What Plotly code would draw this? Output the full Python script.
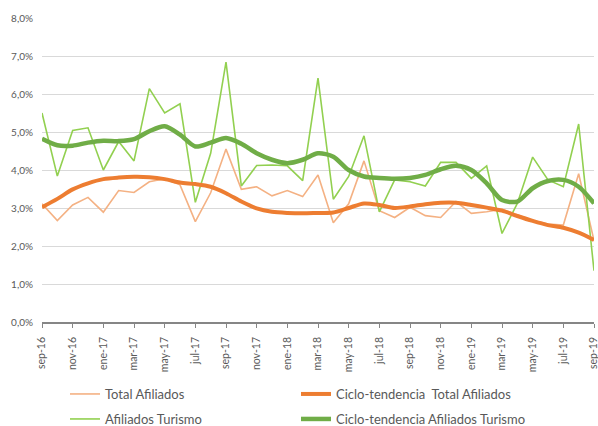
import plotly.graph_objects as go

months = ["sep-16","oct-16","nov-16","dic-16","ene-17","feb-17","mar-17","abr-17","may-17","jun-17",
          "jul-17","ago-17","sep-17","oct-17","nov-17","dic-17","ene-18","feb-18","mar-18","abr-18",
          "may-18","jun-18","jul-18","ago-18","sep-18","oct-18","nov-18","dic-18","ene-19","feb-19",
          "mar-19","abr-19","may-19","jun-19","jul-19","ago-19","sep-19"]

total_afiliados = [3.11, 2.67, 3.08, 3.28, 2.89, 3.46, 3.41, 3.69, 3.77, 3.61, 2.64, 3.40, 4.55,
                   3.49, 3.56, 3.32, 3.46, 3.30, 3.87, 2.61, 3.11, 4.24, 2.93, 2.75, 3.02, 2.80,
                   2.75, 3.17, 2.86, 2.90, 2.97, 2.82, 2.67, 2.58, 2.55, 3.90, 2.14]

ciclo_total = [3.02, 3.24, 3.49, 3.65, 3.76, 3.80, 3.82, 3.81, 3.76, 3.67, 3.63, 3.56, 3.39,
               3.17, 2.99, 2.90, 2.87, 2.86, 2.87, 2.88, 3.00, 3.12, 3.08, 3.00, 3.04, 3.10,
               3.14, 3.14, 3.08, 3.01, 2.93, 2.79, 2.66, 2.55, 2.48, 2.35, 2.16]

afiliados_turismo = [5.50, 3.84, 5.04, 5.11, 4.00, 4.75, 4.24, 6.14, 5.50, 5.74, 3.15, 4.44, 6.84,
                     3.58, 4.12, 4.13, 4.11, 3.72, 6.42, 3.23, 3.83, 4.90, 2.90, 3.74, 3.69, 3.58,
                     4.20, 4.20, 3.78, 4.11, 2.33, 3.12, 4.34, 3.74, 3.56, 5.21, 1.35]

ciclo_turismo = [4.82, 4.65, 4.64, 4.72, 4.77, 4.76, 4.81, 5.02, 5.15, 4.93, 4.62, 4.72, 4.84,
                 4.69, 4.44, 4.27, 4.18, 4.27, 4.44, 4.35, 4.00, 3.83, 3.79, 3.77, 3.79, 3.87,
                 4.02, 4.11, 4.00, 3.65, 3.21, 3.17, 3.52, 3.71, 3.74, 3.56, 3.12]

y_ticks = [0, 1, 2, 3, 4, 5, 6, 7, 8]
y_tick_labels = ["0,0%", "1,0%", "2,0%", "3,0%", "4,0%", "5,0%", "6,0%", "7,0%", "8,0%"]

FONT = "Lato"
GRAY = "#595959"

fig = go.Figure()
fig.add_trace(go.Scatter(x=months, y=total_afiliados, mode="lines", name="Total Afiliados",
                         line=dict(color="#F4B183", width=1.6), legend="legend"))
fig.add_trace(go.Scatter(x=months, y=afiliados_turismo, mode="lines", name="Afiliados Turismo",
                         line=dict(color="#92D050", width=1.6), legend="legend2"))
fig.add_trace(go.Scatter(x=months, y=ciclo_total, mode="lines", name="Ciclo-tendencia  Total Afiliados",
                         line=dict(color="#ED7D31", width=4, shape="spline", smoothing=0.8),
                         legend="legend"))
fig.add_trace(go.Scatter(x=months, y=ciclo_turismo, mode="lines", name="Ciclo-tendencia Afiliados Turismo",
                         line=dict(color="#70AD47", width=4.5, shape="spline", smoothing=0.8),
                         legend="legend2"))

legend_common = dict(orientation="h", xref="container", yref="container", x=65/598,
                     xanchor="left", yanchor="middle", entrywidth=186, entrywidthmode="pixels",
                     font=dict(family=FONT, size=13, color=GRAY), bgcolor="rgba(0,0,0,0)",
                     traceorder="normal")

fig.update_layout(
    width=598, height=426,
    margin=dict(l=42, r=4, t=18, b=104, autoexpand=False),
    paper_bgcolor="white", plot_bgcolor="white",
    separators=",.",
    font=dict(family=FONT, size=10, color=GRAY),
    legend=dict(**legend_common, y=1 - 394/426),
    legend2=dict(**legend_common, y=1 - 419/426),
    xaxis=dict(type="category", range=[0, 36], tickmode="array", tickvals=months[::2],
               ticktext=months[::2], tickangle=-90, ticks="outside", ticklen=4,
               tickcolor="#868686", showline=True, linecolor="#868686", linewidth=1.5,
               showgrid=False, automargin=False, ticklabelstandoff=5,
               tickfont=dict(family=FONT, size=10.5, color=GRAY)),
    yaxis=dict(range=[0, 8], tickmode="array", tickvals=y_ticks, ticktext=y_tick_labels,
               showgrid=True, gridcolor="#D9D9D9", gridwidth=1, automargin=False,
               zeroline=False, showline=False, ticks="", ticklabelstandoff=8,
               tickfont=dict(family=FONT, size=10, color=GRAY)),
)

fig.write_html("out.html", config={"displayModeBar": False},
               post_script="document.body.style.margin='0';document.body.style.overflow='hidden';")
